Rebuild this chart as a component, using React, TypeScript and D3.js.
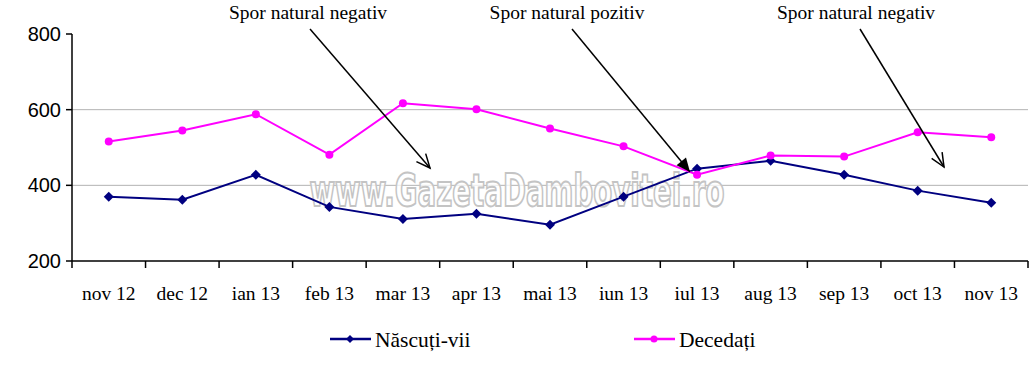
import React from "react";
import * as d3 from "d3";

const categories = ["nov 12", "dec 12", "ian 13", "feb 13", "mar 13", "apr 13", "mai 13", "iun 13", "iul 13", "aug 13", "sep 13", "oct 13", "nov 13"];
const nascuti = [370, 362, 428, 343, 311, 325, 296, 370, 444, 465, 428, 386, 354];
const decedati = [516, 545, 588, 481, 617, 601, 550, 503, 428, 479, 476, 540, 527];
const yTicks = [200, 400, 600, 800];
const seriesNames = ["Născuți-vii", "Decedați"];
const annotations = [
  { text: "Spor natural negativ", tx: 308, x1: 310, y1: 29, x2: 430, y2: 168, filled: false },
  { text: "Spor natural pozitiv", tx: 567, x1: 572, y1: 29, x2: 690, y2: 172, filled: true },
  { text: "Spor natural negativ", tx: 856, x1: 860, y1: 29, x2: 944, y2: 167, filled: false },
];

const W = 1035, H = 375;
const left = 72, right = 1028, top = 34, bottom = 261;
const NAVY = "#000080", MAG = "#FF00FF";

export default function App() {
  const x = d3.scaleBand<string>().domain(categories).range([left, right]);
  const y = d3.scaleLinear().domain([200, 800]).range([bottom, top]);
  const cx = (i: number) => (x(categories[i]) as number) + x.bandwidth() / 2;
  const line = d3.line<number>().x((_, i) => cx(i)).y((d) => y(d));
  const diamond = "M0,-5L5,0L0,5L-5,0Z";
  const serif = "'Liberation Serif', 'Times New Roman', serif";
  const sans = "'Liberation Sans', Arial, sans-serif";

  const arrowHead = (a: any) => {
    const ang = Math.atan2(a.y2 - a.y1, a.x2 - a.x1);
    const len = 15, spread = 0.42;
    const p1 = [a.x2 - len * Math.cos(ang - spread), a.y2 - len * Math.sin(ang - spread)];
    const p2 = [a.x2 - len * Math.cos(ang + spread), a.y2 - len * Math.sin(ang + spread)];
    if (a.filled) {
      return <polygon points={`${p1[0]},${p1[1]} ${a.x2},${a.y2} ${p2[0]},${p2[1]}`} fill="#000" />;
    }
    return <polyline points={`${p1[0]},${p1[1]} ${a.x2},${a.y2} ${p2[0]},${p2[1]}`} fill="none" stroke="#000" strokeWidth={1.5} />;
  };

  return (
    <svg width={W} height={H} style={{ position: "absolute", left: 0, top: 0, background: "#fff" }}>
      {yTicks.filter((t) => t !== 200 && t !== 800).map((t) => (
        <line key={t} x1={left} x2={right} y1={y(t)} y2={y(t)} stroke="#b3b3b3" strokeWidth={1} />
      ))}
      <text x={517} y={206} textAnchor="middle" fontFamily="'DejaVu Sans Condensed', 'DejaVu Sans', sans-serif" fontWeight="bold" fontSize={44}
        textLength={415} lengthAdjust="spacingAndGlyphs" fill="#ffffff" fillOpacity={0.75} stroke="#c4c4c4" strokeWidth={2}>
        www.GazetaDambovitei.ro
      </text>
      <line x1={left} x2={left} y1={top} y2={bottom} stroke="#000" strokeWidth={1.5} />
      <line x1={left} x2={right} y1={bottom} y2={bottom} stroke="#000" strokeWidth={1.5} />
      {yTicks.map((t) => (
        <g key={t}>
          <line x1={left - 6} x2={left} y1={y(t)} y2={y(t)} stroke="#000" strokeWidth={1.5} />
          <text x={61} y={y(t) + 7} textAnchor="end" fontFamily={sans} fontSize={20} fill="#000">{t}</text>
        </g>
      ))}
      {categories.map((c, i) => (
        <g key={c}>
          <line x1={x(c) as number} x2={x(c) as number} y1={bottom} y2={bottom + 7} stroke="#000" strokeWidth={1.5} />
          <text x={cx(i)} y={300} textAnchor="middle" fontFamily={serif} fontSize={19.5} fill="#000">{c}</text>
        </g>
      ))}
      <line x1={right} x2={right} y1={bottom} y2={bottom + 7} stroke="#000" strokeWidth={1.5} />
      <path d={line(nascuti) as string} fill="none" stroke={NAVY} strokeWidth={2} />
      {nascuti.map((v, i) => (
        <path key={i} d={diamond} transform={`translate(${cx(i)},${y(v)})`} fill={NAVY} />
      ))}
      <path d={line(decedati) as string} fill="none" stroke={MAG} strokeWidth={2} />
      {decedati.map((v, i) => (
        <circle key={i} cx={cx(i)} cy={y(v)} r={4} fill={MAG} />
      ))}
      {annotations.map((a, i) => (
        <g key={i}>
          <text x={a.tx} y={19} textAnchor="middle" fontFamily={serif} fontSize={19.5} fill="#000">{a.text}</text>
          <line x1={a.x1} y1={a.y1} x2={a.x2} y2={a.y2} stroke="#000" strokeWidth={1.5} />
          {arrowHead(a)}
        </g>
      ))}
      <line x1={330} x2={371} y1={339} y2={339} stroke={NAVY} strokeWidth={2.5} />
      <path d="M0,-4L4,0L0,4L-4,0Z" transform="translate(350,339)" fill={NAVY} />
      <text x={375} y={347} fontFamily={serif} fontSize={21.5} fill="#000">{seriesNames[0]}</text>
      <line x1={634} x2={675} y1={339} y2={339} stroke={MAG} strokeWidth={2.5} />
      <circle cx={654} cy={339} r={3.5} fill={MAG} />
      <text x={679} y={347} fontFamily={serif} fontSize={21.5} fill="#000">{seriesNames[1]}</text>
    </svg>
  );
}
